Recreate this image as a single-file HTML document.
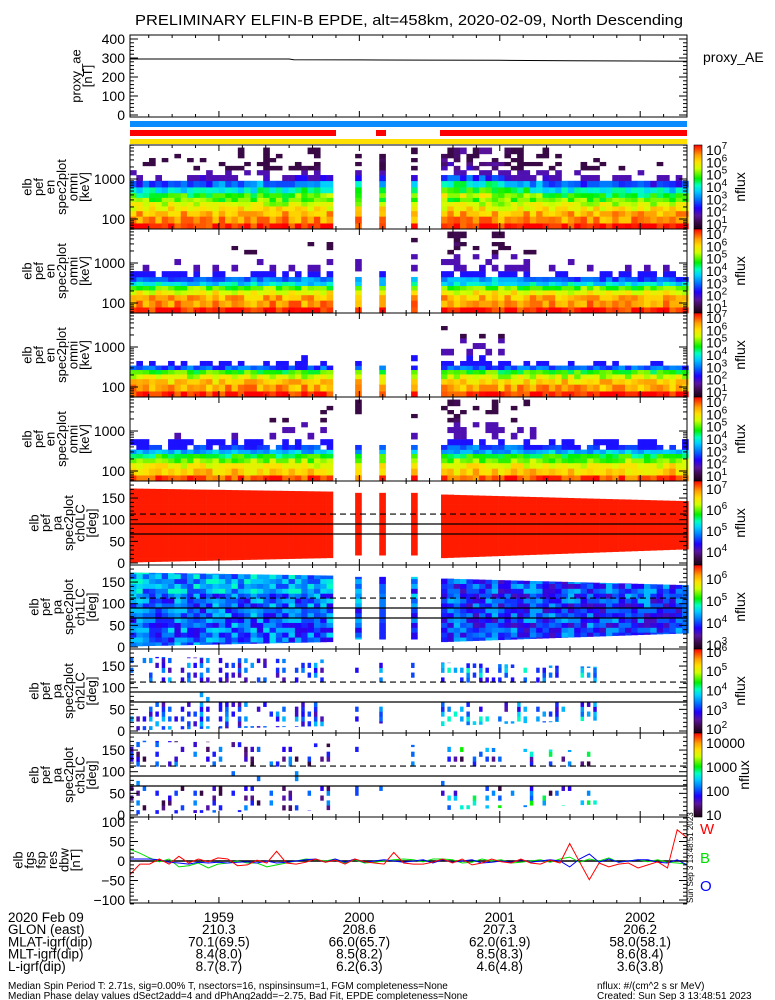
<!DOCTYPE html>
<html><head><meta charset="utf-8"><title>ELFIN-B EPDE</title>
<style>
body{margin:0;background:#fff;}
svg{display:block;font-family:"Liberation Sans",sans-serif;}
</style></head>
<body>
<svg id="chart" xmlns="http://www.w3.org/2000/svg" width="775" height="1000" viewBox="0 0 775 1000">
<rect x="0" y="0" width="775" height="1000" fill="#fff"/>
<text x="409" y="25" font-size="15" text-anchor="middle" textLength="548" lengthAdjust="spacingAndGlyphs">PRELIMINARY ELFIN-B EPDE, alt=458km, 2020-02-09, North Descending</text>
<g id="layer"></g>
</svg>
<script>
// ---------------- data ----------------
const timeLabels = ['1959','2000','2001','2002'];
const timeLabelSec = [0, 60, 120, 180];
const glonVals = ['210.3','208.6','207.3','206.2'];
const mlatVals = ['70.1(69.5)','66.0(65.7)','62.0(61.9)','58.0(58.1)'];
const mltVals = ['8.4(8.0)','8.5(8.2)','8.5(8.3)','8.6(8.4)'];
const lVals = ['8.7(8.7)','6.2(6.3)','4.6(4.8)','3.6(3.8)'];
const aeTimes = [-38, 0, 30, 32, 60, 90, 120, 150, 180, 200];
const aeVals = [295, 295, 295, 291, 290, 289, 288, 286, 284, 283];
const blockStart = [-38, 58.2, 68.5, 82.1, 94.9];
const blockCount = [32, 1, 1, 1, 39];
const blockPaLo = [[2,12],[18,18],[18,18],[18,18],[12,32]];
const blockPaHi = [[172,165],[162,162],[162,162],[162,162],[158,143]];
const energies = [63.2,97.9,138.5,183.7,238.9,305.9,385.3,520.4,752.0,1081.6,1457.8,1900.5,2388.4,2977.7,3759.6,4791.9];
const spec1Base = [7.3,6.6,6.4,5.9,5.5,5.0,4.5,3.7,2.4,1.0,-0.2,-0.2,-0.3,-0.3,-0.4,-0.4];
const spec2Base = [7.3,6.6,6.4,5.8,5.0,3.8,2.6,1.2,0.3,-0.3,-0.4,-0.5,-0.5,-0.6,-0.6,-0.6];
const spec3Base = [7.3,6.5,6.2,5.5,4.8,2.8,0.8,-0.2,-0.5,-0.6,-0.7,-0.7,-0.8,-0.8,-0.8,-0.8];
const spec4Base = [7.0,6.2,5.8,5.2,4.6,3.5,2.2,0.9,0.1,-0.3,-0.5,-0.5,-0.6,-0.6,-0.6,-0.6];
const NOISE = "47291563802746159382057164938205716493827164059382716405938271640593827164059382716405938271640592";
const ACT = "11211212212322323333434344455555" + "666" + "999998988776554432222122211111111011110";
const fgsRed = [-35,-8,-8,5,-8,12,-5,5,-2,8,5,-12,-10,2,-5,25,-5,-8,-3,5,-3,2,-8,5,-2,-5,-8,22,-5,-8,-8,-3,5,-5,5,-10,-5,5,-2,-5,5,-5,-8,2,-5,45,-2,-48,-5,-15,-8,-5,-18,-10,-2,-18,80,60];
const fgsGreen = [30,20,8,-2,5,-15,-12,-5,-18,-8,-5,0,-5,-5,-15,-10,-5,0,5,3,0,5,-5,3,-5,-3,0,3,5,3,-2,5,5,3,-5,-3,5,0,3,-5,-3,0,3,-3,5,10,-3,5,0,8,-3,0,3,-2,3,-3,-5,-8];
const fgsBlue = [5,5,5,3,-3,-5,-8,-3,-5,-3,-5,-3,-2,-5,0,-5,-3,0,3,5,-3,5,-3,5,-3,0,3,0,-3,0,3,-5,3,-3,0,3,-5,-3,0,-3,3,-3,0,3,0,-15,5,18,-3,5,-3,0,3,3,-3,-5,3,-10];

// ---------------- helpers ----------------
const NS = 'http://www.w3.org/2000/svg';
const layer = document.getElementById('layer');
function mk(tag, attrs, parent){
  const el = document.createElementNS(NS, tag);
  for (const k in attrs) el.setAttribute(k, attrs[k]);
  (parent || layer).appendChild(el);
  return el;
}
const X0 = 130, X1 = 687, T0 = -38, T1 = 200;
function xS(t){ return X0 + (t - T0) * (X1 - X0) / (T1 - T0); }
const SPIN = 2.71;
const stops = [[0,'#1a0015'],[0.08,'#3c0a4a'],[0.16,'#5a14a0'],[0.25,'#2000ff'],[0.35,'#0070ff'],[0.45,'#00d0ff'],[0.52,'#00ffc0'],[0.6,'#00f000'],[0.72,'#d0ff00'],[0.8,'#ffe000'],[0.88,'#ffa000'],[1,'#ff0000']];
function hx(c){ return [parseInt(c.slice(1,3),16),parseInt(c.slice(3,5),16),parseInt(c.slice(5,7),16)]; }
function cmap(v){
  v = Math.max(0, Math.min(1, v));
  for (let i=1;i<stops.length;i++){
    if (v <= stops[i][0]){
      const a = stops[i-1], b = stops[i], f = (v-a[0])/(b[0]-a[0]);
      const ca = hx(a[1]), cb = hx(b[1]);
      return 'rgb('+ca.map((c,j)=>Math.round(c+(cb[j]-c)*f)).join(',')+')';
    }
  }
  return '#ff0000';
}
const spins = [];
for (let b=0;b<blockStart.length;b++){
  for (let i=0;i<blockCount[b];i++){
    const f = blockCount[b] > 1 ? i/(blockCount[b]-1) : 0;
    spins.push({t: blockStart[b] + i*SPIN, b: b,
      lo: blockPaLo[b][0] + (blockPaLo[b][1]-blockPaLo[b][0])*f,
      hi: blockPaHi[b][0] + (blockPaHi[b][1]-blockPaHi[b][0])*f});
  }
}
function nz(i){ return +NOISE[((i % NOISE.length)+NOISE.length) % NOISE.length]; }
function hn(a, b, c){ return nz(a*a*7 + b*31 + a*b*13 + c*17 + Math.floor(a/3)*5); }

const defs = mk('defs', {});
const grad = mk('linearGradient', {id:'cbar', x1:0, y1:1, x2:0, y2:0}, defs);
stops.forEach(s => { mk('stop', {offset: s[0], 'stop-color': s[1]}, grad); });

function timeTicks(top, bot, g){
  for (let t = -30; t <= 200; t += 10){
    const x = xS(t);
    const len = (t % 60 === 0) ? 6 : 3;
    const tk1 = mk('line', {x1:x, x2:x, y1:bot, y2:bot-len, stroke:'#000', 'stroke-width':1}, g);
    
    
    const tk2 = mk('line', {x1:x, x2:x, y1:top, y2:top+len, stroke:'#000', 'stroke-width':1}, g);
    
    
  }
}
function frame(top, bot, g, name){
  const r = mk('rect', {x:X0, y:top, width:X1-X0, height:bot-top, fill:'none', stroke:'#000', 'stroke-width':1}, g);
  
  
}
function yTick(y, len, g){
  const a = mk('line', {x1:X0, x2:X0+len, y1:y, y2:y, stroke:'#000'}, g);
  
  
  const b = mk('line', {x1:X1, x2:X1-len, y1:y, y2:y, stroke:'#000'}, g);
  
  
}
function yLabel(txt, y, g){
  const t = mk('text', {x:125, y:y+5, 'font-size':14, 'text-anchor':'end'}, g);
  t.textContent = txt;
  
  
}
function sideTitle(lines, xLast, yc, g, name){
  const gg = mk('g', {}, g);
  
  
  lines.forEach((ln, i) => {
    const x = xLast - (lines.length-1-i)*11.5;
    const t = mk('text', {x:x, y:yc, 'font-size':13, 'text-anchor':'middle', transform:'rotate(-90 '+x+' '+yc+')', dy:4}, gg);
    t.textContent = ln;
    
    
  });
}
function colorbar(top, bot, lo, hi, labels, g, plain){
  const r = mk('rect', {x:694, y:top, width:8, height:bot-top, fill:'url(#cbar)', stroke:'#000', 'stroke-width':0.6}, g);
  
  
  labels.forEach(k => {
    const y = bot - (k - lo)/(hi - lo)*(bot - top);
    const t = mk('text', {x:706, y:y+5, 'font-size':14}, g);
    if (plain){ t.textContent = String(Math.round(Math.pow(10,k))); }
    else {
      t.textContent = '10';
      const s = mk('tspan', {dy:-6, 'font-size':10}, t);
      s.textContent = String(k);
    }
    
    
  });
  const yc = (top+bot)/2;
  const xx = plain ? 745 : 741;
  const n = mk('text', {x:xx, y:yc, 'font-size':14, 'text-anchor':'middle', transform:'rotate(-90 '+xx+' '+yc+')', dy:4}, g);
  n.textContent = 'nflux';
  
  
}

// ---------------- proxy AE ----------------
(function(){
  const g = mk('g', {});
  
  
  const top = 35, bot = 117;
  const yA = v => 115 - v*0.19;
  let d = '';
  aeTimes.forEach((t,i) => { d += (i?'L':'M') + xS(t).toFixed(1) + ' ' + yA(aeVals[i]).toFixed(1); });
  const p = mk('path', {d:d, fill:'none', stroke:'#000', 'stroke-width':1}, g);
  
  
  for (let v=0; v<=400; v+=20) yTick(yA(v), v%100===0?8:4, g);
  [0,100,200,300,400].forEach(v => yLabel(String(v), yA(v), g));
  timeTicks(top, bot, g);
  frame(top, bot, g, 'proxy-ae-frame');
  sideTitle(['proxy_ae','[nT]'], 88, 76, g, 'proxy-ae-axis-title');
  const l = mk('text', {x:703, y:62, 'font-size':14}, g);
  l.textContent = 'proxy_AE';
  
  
})();

// ---------------- status bars ----------------
(function(){
  const g = mk('g', {});
  
  
  const b = mk('rect', {x:X0, y:121, width:X1-X0, height:6, fill:'#0a8cff'}, g);
  
  
  [[X0, 336],[376,386],[440,X1]].forEach(s => {
    const r = mk('rect', {x:s[0], y:130, width:s[1]-s[0], height:6, fill:'#ff0000'}, g);
    
    
  });
  const yb = mk('rect', {x:X0, y:139, width:X1-X0, height:5, fill:'#ffe000'}, g);
  
  
})();

// ---------------- energy spectrograms ----------------
const specBases = [spec1Base, spec2Base, spec3Base, spec4Base];
const specThr = [1.25, 1.3, 1.4, 1.35];
const specAct = [0.2, 0.17, 0.12, 0.15];
specBases.forEach((base, p) => {
  const top = 145 + 84*p, bot = top + 84;
  const g = mk('g', {});
  
  
  const yE = E => top + 34 - (Math.log10(E) - 3)*40;
  const lo = 0.6, hi = 7.4;
  spins.forEach((s, si) => {
    const x = xS(s.t), w = xS(s.t + SPIN) - x;
    const act = +ACT[si];
    for (let e=0; e<energies.length; e++){
      const eLo = e===0 ? energies[0]*energies[0]/energies[1] : Math.sqrt(energies[e]*energies[e-1]);
      const eHi = e===energies.length-1 ? energies[e]*energies[e]/energies[e-1] : Math.sqrt(energies[e]*energies[e+1]);
      const boost = e >= 6 ? act*specAct[p]*(e>=8?1:0.6) : 0;
      const pres = base[e] + boost + (hn(si, e, p) - 4.5)*0.3;
      if (pres < specThr[p]) continue;
      let L = base[e] + boost + (hn(si+3, e+5, p+2) - 4.5)*0.1;
      if (e >= 8) L = Math.max(L, e >= 11 ? 1.1 : 1.8);
      else L = Math.max(L, 2.4);
      const y1 = Math.max(top, yE(eHi)), y2 = Math.min(bot, yE(eLo));
      if (y2 <= y1) continue;
      const r = mk('rect', {x:x.toFixed(2), y:y1.toFixed(2), width:(w+0.3).toFixed(2), height:(y2-y1+0.3).toFixed(2), fill:cmap((L-lo)/(hi-lo))}, g);
      
      
    }
  });
  for (let dec=1; dec<=3; dec++) for (let m=1; m<=9; m++){
    const E = m*Math.pow(10,dec); const y = yE(E);
    if (y < top || y > bot) continue;
    yTick(y, m===1?8:4, g);
  }
  yLabel('100', yE(100), g);
  yLabel('1000', yE(1000), g);
  timeTicks(top, bot, g);
  frame(top, bot, g, 'spectrogram-frame');
  sideTitle(['elb','pef','en','spec2plot','omni','[keV]'], 85, top+42, g, 'spectrogram-axis-title');
  colorbar(top, bot, lo, hi, [1,2,3,4,5,6,7], g, false);
});

// ---------------- pitch-angle spectrograms ----------------
const paRanges = [[3.38,7.38],[2.82,6.64],[1.8,6.15],[0.92,4.42]];
const paCbLabels = [[4,5,6,7],[3,4,5,6],[2,3,4,5,6],[1,2,3,4]];
const paTitles = ['ch0LC','ch1LC','ch2LC','ch3LC'];
for (let p=0; p<4; p++){
  const top = 481 + 84*p, bot = top + 84;
  const g = mk('g', {});
  
  
  const yP = a => top + 82 - a*0.433;
  const lo = paRanges[p][0], hi = paRanges[p][1];
  spins.forEach((s, si) => {
    const x = xS(s.t), w = xS(s.t + SPIN) - x;
    const act = +ACT[si];
    for (let k=0; k<16; k++){
      const a0 = Math.max(k*11.25, s.lo), a1 = Math.min((k+1)*11.25, s.hi);
      if (a1 <= a0) continue;
      const pc = (k+0.5)*11.25;
      const n = hn(si, k, p+4);
      const n2 = hn(si+7, k+2, p+9);
      let L;
      if (p === 0) L = 7.3;
      else if (p === 1) L = (s.b === 4 ? 4.0 : 4.15) + (n-4.5)*0.1 + (pc > 120 && s.b === 0 ? 0.2 : 0);
      else if (p === 2){
        const inLC = pc > 62 && pc < 112;
        if (inLC ? n < 9 || n2 < 8 : n < 6) continue;
        if (s.b === 4 && act < 2) continue;
        L = 3.1 + (n2-4.5)*0.12 + (s.b === 4 && (pc > 120 || pc < 40) ? 0.4 : 0);
      } else {
        const inLC = pc > 62 && pc < 112;
        if (inLC ? n < 9 || n2 < 8 : n < 7) continue;
        if (s.b === 4 && act < 2) continue;
        L = 1.7 + (n2-4.5)*0.12 + (s.b === 4 && (pc > 130 || pc < 40) ? 0.8 : 0);
      }
      const y1 = yP(a1), y2 = yP(a0);
      const r = mk('rect', {x:x.toFixed(2), y:y1.toFixed(2), width:(p>=2 ? w*0.55 : w+0.3).toFixed(2), height:(y2-y1+0.3).toFixed(2), fill:cmap((L-lo)/(hi-lo))}, g);
      
      
    }
  });
  [[90,''],[67,''],[113,'6,4']].forEach(l => {
    const ln = mk('line', {x1:X0, x2:X1, y1:yP(l[0]), y2:yP(l[0]), stroke:'#000', 'stroke-width':1.2, 'stroke-dasharray':l[1]}, g);
    
    
  });
  for (let a=0; a<=180; a+=10) yTick(yP(a), a%50===0?8:4, g);
  [0,50,100,150].forEach(a => yLabel(String(a), yP(a), g));
  timeTicks(top, bot, g);
  frame(top, bot, g, 'pitch-angle-frame');
  sideTitle(['elb','pef','pa','spec2plot',paTitles[p],'[deg]'], 92, top+42, g, 'pitch-angle-axis-title');
  colorbar(top, bot, lo, hi, paCbLabels[p], g, p === 3);
}

// ---------------- fgs residual panel ----------------
(function(){
  const top = 817, bot = 903;
  const g = mk('g', {});
  
  
  const yF = v => 861 - v*0.39;
  const xI = (i, n) => X0 + i*(X1-X0)/(n-1);
  const z = mk('line', {x1:X0, x2:X1, y1:yF(0), y2:yF(0), stroke:'#000', 'stroke-width':1.5}, g);
  
  
  [[fgsGreen,'#00e000','fgs-b-line'],[fgsBlue,'#0000ff','fgs-o-line'],[fgsRed,'#ff0000','fgs-w-line']].forEach(s => {
    let d = '';
    s[0].forEach((v,i) => { d += (i?'L':'M') + xI(i, s[0].length).toFixed(1) + ' ' + yF(v).toFixed(1); });
    const p = mk('path', {d:d, fill:'none', stroke:s[1], 'stroke-width':1}, g);
    
    
  });
  for (let v=-110; v<=110; v+=10) yTick(yF(v), v%50===0?8:4, g);
  [-100,-50,0,50,100].forEach(v => yLabel(String(v).replace('-','\u2212'), yF(v), g));
  timeTicks(top, bot, g);
  frame(top, bot, g, 'fgs-frame');
  sideTitle(['elb','fgs','fsp','res','dbw','[nT]'], 76, 860, g, 'fgs-axis-title');
  [['W','#ff0000',834,'legend-w'],['B','#00e000',863,'legend-b'],['O','#0000ff',891,'legend-o']].forEach(l => {
    const t = mk('text', {x:700, y:l[2], 'font-size':15, style:'fill:'+l[1]}, g);
    t.textContent = l[0];
    
    
  });
  const dt = mk('text', {x:693, y:903, 'font-size':8, transform:'rotate(-90 693 903)'}, g);
  dt.textContent = 'Sun Sep  3 13:48:51 2023';
  
  
})();

// ---------------- orbit table ----------------
(function(){
  const g = mk('g', {});
  
  
  const rowsL = ['2020 Feb 09','GLON (east)','MLAT-igrf(dip)','MLT-igrf(dip)','L-igrf(dip)'];
  const rowsV = [timeLabels, glonVals, mlatVals, mltVals, lVals];
  rowsL.forEach((lab, r) => {
    const y = 922 + r*12.2;
    const t = mk('text', {x:8, y:y, 'font-size':13.5}, g);
    t.textContent = lab;
    
    
    rowsV[r].forEach((v, c) => {
      const tv = mk('text', {x:xS(timeLabelSec[c]), y:y, 'font-size':13.5, 'text-anchor':'middle'}, g);
      tv.textContent = v;
      
      
    });
  });
  const f = [['Median Spin Period T: 2.71s, sig=0.00% T, nsectors=16, nspinsinsum=1, FGM completeness=None', 8, 989],
             ['Median Phase delay values dSect2add=4 and dPhAng2add=\u22122.75, Bad Fit, EPDE completeness=None', 8, 999],
             ['nflux: #/(cm^2 s sr MeV)', 597, 989],
             ['Created: Sun Sep  3 13:48:51 2023', 597, 999]];
  f.forEach(s => {
    const t = mk('text', {x:s[1], y:s[2], 'font-size':10}, g);
    t.textContent = s[0];
    
    
  });
})();
</script>
</body></html>
